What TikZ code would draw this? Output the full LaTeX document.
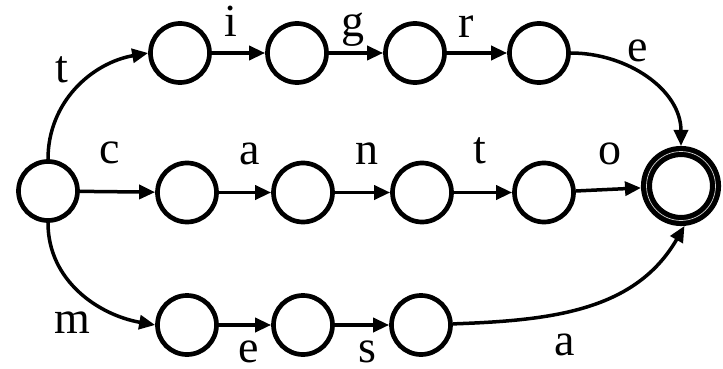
\documentclass[tikz,border=0pt]{standalone}
\usepackage{fontspec}
\setmainfont{Liberation Serif}
\usetikzlibrary{arrows.meta}
\begin{document}
\begin{tikzpicture}[x=1pt,y=1pt,
  state/.style={circle,draw,line width=4.7pt,minimum size=59pt,inner sep=0pt},
  accept/.style={circle,draw,line width=5.2pt,double=gray!35,double distance=0.7pt,
                 minimum size=69pt,inner sep=0pt,outer sep=5.55pt},
  trans/.style={line width=3.5pt,-{Triangle[length=16pt,width=14pt]}},
  lbl/.style={anchor=base,inner sep=0pt,font=\fontsize{46}{50}\selectfont}]
  \useasboundingbox (0,0) rectangle (723,-369);

  % states
  \node[state] (s)  at (48,-191) {};
  \node[state] (t1) at (180,-53) {};
  \node[state] (t2) at (297,-53) {};
  \node[state] (t3) at (415,-53) {};
  \node[state] (t4) at (539,-53) {};
  \node[state] (m1) at (187,-192.5) {};
  \node[state] (m2) at (303,-192.5) {};
  \node[state] (m3) at (422,-192.5) {};
  \node[state] (m4) at (544,-192.5) {};
  \node[state] (b1) at (187,-325) {};
  \node[state] (b2) at (303,-325) {};
  \node[state] (b3) at (421,-325) {};
  \node[accept] (f) at (681,-186) {};

  % transitions
  \draw[trans] (s) to[out=90,in=190] (t1.west);
  \draw[trans] (t1) -- (t2);
  \draw[trans] (t2) -- (t3);
  \draw[trans] (t3) -- (t4);
  \draw[trans] (t4) to[out=0,in=90] (f);
  \draw[trans] (s) -- (m1);
  \draw[trans] (m1) -- (m2);
  \draw[trans] (m2) -- (m3);
  \draw[trans] (m3) -- (m4);
  \draw[trans] (m4) -- (f);
  \draw[trans] (s) to[out=-90,in=170] (b1.west);
  \draw[trans] (b1) -- (b2);
  \draw[trans] (b2) -- (b3);
  \draw[trans] (b3) to[out=2,in=-120] (f.-85);

  % labels
  \node[lbl] (lt1) at (62,-82) {t};
  \node[lbl] (li)  at (231,-37) {i};
  \node[lbl] (lg)  at (353,-37) {g};
  \node[lbl] (lr)  at (466,-38) {r};
  \node[lbl] (le1) at (638,-62) {e};
  \node[lbl] (lc)  at (110,-163) {c};
  \node[lbl] (la1) at (250,-164) {a};
  \node[lbl] (ln)  at (367,-164) {n};
  \node[lbl] (lt2) at (480,-163) {t};
  \node[lbl] (lo)  at (610,-164) {o};
  \node[lbl] (lm)  at (72.5,-333) {m};
  \node[lbl] (le2) at (249,-362) {e};
  \node[lbl] (ls)  at (367,-362) {s};
  \node[lbl] (la2) at (565,-355) {a};
\end{tikzpicture}
\end{document}
